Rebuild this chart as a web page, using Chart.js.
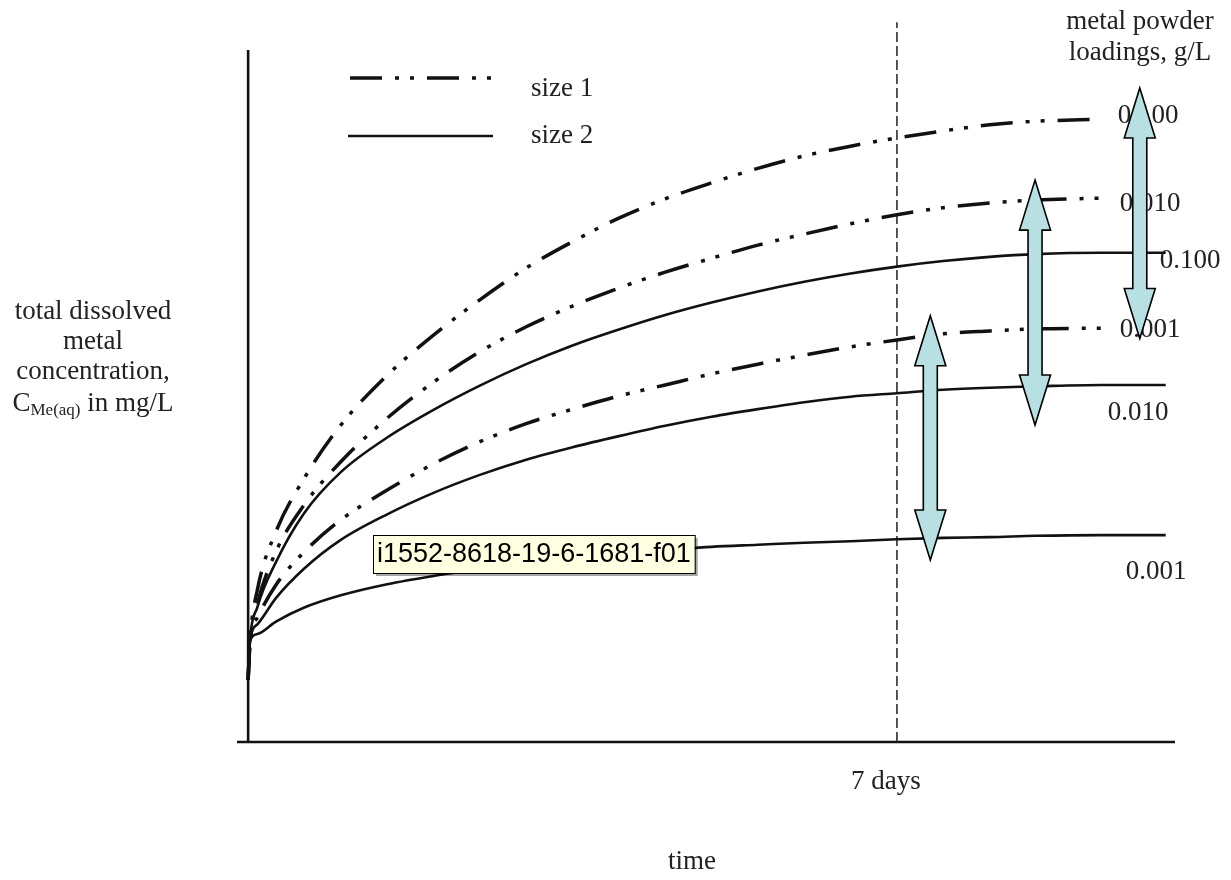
<!DOCTYPE html>
<html><head><meta charset="utf-8">
<script src="https://cdn.jsdelivr.net/npm/chart.js@4"></script>
<style>html,body{margin:0;padding:0;background:#fff}canvas{display:block}</style>
</head><body>
<canvas id="c" width="1231" height="880"></canvas>
<script>
// ---- data (time in days, concentration in arbitrary units 0-100) ----
const daysSize1 = [0, 0.02, 0.1, 0.3, 0.6, 1, 1.5, 2, 2.5, 3, 3.5, 4, 4.5, 5, 5.5, 6, 6.5, 7, 7.5, 8, 8.5, 9.2];
const daysSize2 = [0, 0.02, 0.1, 0.3, 0.6, 1, 1.5, 2, 2.5, 3, 3.5, 4, 4.5, 5, 5.5, 6, 6.5, 7, 7.5, 8, 8.5, 9.2, 9.9];

const size1_load0100 = [9.0, 14.5, 22.0, 30.4, 38.0, 45.8, 53.0, 58.8, 63.9, 68.5, 72.3, 75.7, 78.5, 80.8, 82.9, 84.7, 86.1, 87.3, 88.3, 89.2, 89.7, 90.0];
const size1_load0010 = [9.0, 14.5, 20.0, 27.5, 34.2, 40.5, 46.8, 52.0, 56.4, 60.0, 63.0, 65.6, 67.9, 69.9, 71.8, 73.4, 74.9, 76.2, 77.2, 77.9, 78.3, 78.6];
const size1_load0001 = [9.0, 14.5, 18.0, 22.7, 27.4, 32.1, 36.4, 40.2, 43.4, 46.0, 48.1, 50.0, 51.6, 53.2, 54.6, 55.9, 57.1, 58.1, 59.0, 59.4, 59.7, 59.8];

const size2_load0100 = [9.0, 14.5, 19.5, 26.0, 33.0, 39.0, 44.0, 48.0, 51.5, 54.6, 57.3, 59.6, 61.7, 63.5, 65.1, 66.5, 67.7, 68.7, 69.5, 70.1, 70.5, 70.7, 70.7];
const size2_load0010 = [9.0, 14.5, 17.0, 20.8, 25.0, 29.2, 32.9, 36.0, 38.6, 40.8, 42.6, 44.2, 45.7, 47.0, 48.1, 49.1, 49.9, 50.4, 50.9, 51.2, 51.4, 51.6, 51.6];
const size2_load0001 = [9.0, 14.5, 15.6, 17.4, 19.4, 21.2, 22.8, 24.0, 25.0, 25.9, 26.6, 27.2, 27.7, 28.2, 28.5, 28.8, 29.0, 29.3, 29.5, 29.6, 29.8, 29.9, 29.9];

const markerDay = 7;
const markerLabel = '7 days';
const seriesNames = ['size 1', 'size 2'];
const loadingLabels = ['0.100', '0.010', '0.001'];
// arrows: day position, from concentration, to concentration
const arrowDays = [9.62, 8.49, 7.36];
const arrowTops = [94.5, 81.2, 61.6];
const arrowBottoms = [58.3, 45.8, 26.3];

// ---- helpers ----
const pts = (xs, ys) => xs.map((x, i) => ({x, y: ys[i]}));
const DASHDOT = [32, 13, 4, 11, 4, 13];
const INK = '#111';
const TXT = '#222';
const SERIF = '"Liberation Serif", "DejaVu Serif", serif';

function dd(data) {
  return {data, borderColor: INK, borderWidth: 3.5, borderDash: DASHDOT, borderCapStyle: 'butt',
    pointRadius: 0, cubicInterpolationMode: 'monotone', fill: false};
}
function solid(data) {
  return {data, borderColor: INK, borderWidth: 2.6, pointRadius: 0, cubicInterpolationMode: 'monotone', fill: false};
}

const datasets = [
  dd(pts(daysSize1, size1_load0100)),
  dd(pts(daysSize1, size1_load0010)),
  dd(pts(daysSize1, size1_load0001)),
  solid(pts(daysSize2, size2_load0100)),
  solid(pts(daysSize2, size2_load0010)),
  solid(pts(daysSize2, size2_load0001)),
  {data: [{x: markerDay, y: 0}, {x: markerDay, y: 104}], borderColor: '#222', borderWidth: 1.5,
   borderDash: [10, 4], pointRadius: 0, clip: false, fill: false}
];

function arrow(ctx, cx, yt, yb) {
  const sh = 7, hh = 15.5, hl = 50;
  ctx.beginPath();
  ctx.moveTo(cx, yt);
  ctx.lineTo(cx + hh, yt + hl);
  ctx.lineTo(cx + sh, yt + hl);
  ctx.lineTo(cx + sh, yb - hl);
  ctx.lineTo(cx + hh, yb - hl);
  ctx.lineTo(cx, yb);
  ctx.lineTo(cx - hh, yb - hl);
  ctx.lineTo(cx - sh, yb - hl);
  ctx.lineTo(cx - sh, yt + hl);
  ctx.lineTo(cx - hh, yt + hl);
  ctx.closePath();
  ctx.fillStyle = '#b8dfe2';
  ctx.fill();
  ctx.strokeStyle = '#000';
  ctx.lineWidth = 1.6;
  ctx.lineJoin = 'miter';
  ctx.stroke();
}

const decor = {
  id: 'decor',
  beforeDatasetsDraw(chart) {
    const {ctx, scales: {x, y}} = chart;
    ctx.save();
    // axes
    ctx.strokeStyle = INK; ctx.lineWidth = 2.6;
    ctx.beginPath();
    const x0 = x.getPixelForValue(0);
    ctx.moveTo(x0, y.getPixelForValue(y.max));
    ctx.lineTo(x0, y.getPixelForValue(0));
    ctx.moveTo(x.getPixelForValue(x.min), y.getPixelForValue(0));
    ctx.lineTo(x.getPixelForValue(x.max), y.getPixelForValue(0));
    ctx.stroke();

    ctx.fillStyle = TXT;
    ctx.font = '27px ' + SERIF;
    ctx.textAlign = 'center'; ctx.textBaseline = 'middle';
    // x labels
    ctx.fillText(markerLabel, x.getPixelForValue(markerDay) - 11, 782);
    ctx.fillText('time', 692, 862);
    // y title
    ctx.fillText('total dissolved', 93, 312);
    ctx.fillText('metal', 93, 342);
    ctx.fillText('concentration,', 93, 372);
    // C_Me(aq) in mg/L
    const big = '27px ' + SERIF, small = '17px ' + SERIF;
    ctx.font = big; const wC = ctx.measureText('C').width;
    ctx.font = small; const wS = ctx.measureText('Me(aq)').width;
    ctx.font = big; const wR = ctx.measureText(' in mg/L').width;
    let sx = 93 - (wC + wS + wR) / 2;
    ctx.textAlign = 'left'; ctx.textBaseline = 'alphabetic';
    ctx.fillText('C', sx, 411);
    ctx.font = small; ctx.fillText('Me(aq)', sx + wC, 415);
    ctx.font = big; ctx.fillText(' in mg/L', sx + wC + wS, 411);
    // top-right title
    ctx.textAlign = 'center'; ctx.textBaseline = 'middle';
    ctx.fillText('metal powder', 1140, 22);
    ctx.fillText('loadings, g/L', 1140, 53);

    // legend
    ctx.strokeStyle = INK;
    ctx.lineWidth = 3.5; ctx.setLineDash(DASHDOT); ctx.lineCap = 'butt';
    ctx.beginPath(); ctx.moveTo(350, 78); ctx.lineTo(491, 78); ctx.stroke();
    ctx.setLineDash([]); ctx.lineWidth = 2.6;
    ctx.beginPath(); ctx.moveTo(348, 136); ctx.lineTo(493, 136); ctx.stroke();
    ctx.textAlign = 'left';
    ctx.fillText(seriesNames[0], 531, 89);
    ctx.fillText(seriesNames[1], 531, 136);

    // loading labels at curve ends
    const ends1 = [size1_load0100, size1_load0010, size1_load0001];
    const ends2 = [size2_load0100, size2_load0010, size2_load0001];
    const xe1 = x.getPixelForValue(daysSize1[daysSize1.length - 1]);
    const xe2 = x.getPixelForValue(daysSize2[daysSize2.length - 1]);
    const off1 = [[17, -3], [19, 6], [19, 2]];
    const off2 = [[-6, 8], [-58, 28], [-40, 37]];
    ends1.forEach((s, i) => {
      ctx.fillText(loadingLabels[i], xe1 + off1[i][0], y.getPixelForValue(s[s.length - 1]) + off1[i][1]);
    });
    ends2.forEach((s, i) => {
      ctx.fillText(loadingLabels[i], xe2 + off2[i][0], y.getPixelForValue(s[s.length - 1]) + off2[i][1]);
    });
    ctx.restore();
  },
  afterDatasetsDraw(chart) {
    const {ctx, scales: {x, y}} = chart;
    ctx.save();
    arrowDays.forEach((d, i) => {
      arrow(ctx, x.getPixelForValue(d), y.getPixelForValue(arrowTops[i]), y.getPixelForValue(arrowBottoms[i]));
    });
    // figure-id tooltip box
    const txt = 'i1552-8618-19-6-1681-f01';
    ctx.font = '27px "Liberation Sans", Arial, sans-serif';
    const tw = ctx.measureText(txt).width;
    const bx = 373, by = 535, bw = tw + 8, bh = 38;
    ctx.fillStyle = 'rgba(0,0,0,0.35)';
    ctx.fillRect(bx + 3, by + 3, bw, bh);
    ctx.fillStyle = '#ffffe1';
    ctx.fillRect(bx, by, bw, bh);
    ctx.strokeStyle = '#000'; ctx.lineWidth = 1;
    ctx.strokeRect(bx + 0.5, by + 0.5, bw, bh);
    ctx.fillStyle = '#000';
    ctx.textAlign = 'left'; ctx.textBaseline = 'middle';
    ctx.fillText(txt, bx + 4, by + bh / 2 + 1);
    ctx.restore();
  }
};

new Chart(document.getElementById('c'), {
  type: 'line',
  data: {datasets},
  options: {
    responsive: false,
    animation: false,
    events: [],
    layout: {padding: {left: 237, right: 56, top: 50, bottom: 138}},
    scales: {
      x: {type: 'linear', min: -0.12, max: 10, display: false},
      y: {type: 'linear', min: 0, max: 100, display: false}
    },
    plugins: {legend: {display: false}, tooltip: {enabled: false}}
  },
  plugins: [decor]
});
</script>
</body></html>
